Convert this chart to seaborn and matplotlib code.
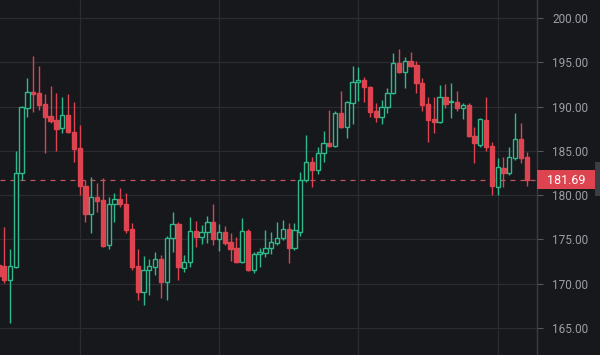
import matplotlib
matplotlib.use("Agg")
import matplotlib.pyplot as plt
import seaborn as sns
import pandas as pd
from matplotlib.patches import Rectangle

# OHLC, one entry per candle (first one is cut by the left edge)
opens = [172.1, 172.01, 170.43, 171.90, 182.51, 189.84, 191.65, 191.54, 190.29, 188.94,
         188.49, 187.58, 189.05, 187.13, 185.33, 181.04, 177.88, 179.80, 179.46, 174.38,
         179.01, 179.57, 179.01, 176.19, 172.01, 169.07, 171.56, 171.90, 172.80, 170.20,
         175.17, 176.75, 171.78, 172.46, 175.96, 175.28, 175.85, 176.98, 175.06, 175.85,
         174.72, 174.04, 172.46, 175.96, 171.56, 173.36, 173.48, 174.04, 174.60, 175.17,
         176.19, 174.04, 175.85, 181.72, 183.75, 182.84, 184.76, 185.89, 185.55, 189.28,
         187.70, 190.41, 192.78, 193.00, 192.21, 189.50, 188.83, 189.95, 191.54, 194.92,
         193.91, 195.15, 194.70, 192.66, 190.29, 188.60, 188.26, 191.08, 190.52, 190.52,
         189.84, 190.18, 186.68, 185.67, 188.49, 185.55, 180.93, 183.07, 182.51, 184.20,
         186.34, 184.31]
highs = [172.46, 176.41, 173.93, 184.99, 190.05, 193.23, 195.71, 194.58, 191.42, 192.33,
         191.54, 191.08, 191.42, 190.52, 187.92, 181.72, 182.05, 181.38, 181.94, 179.80,
         180.25, 180.81, 180.25, 176.86, 173.93, 173.14, 172.80, 173.59, 173.25, 175.40,
         178.10, 176.98, 173.25, 177.54, 177.09, 176.64, 177.65, 179.01, 176.75, 176.52,
         175.73, 175.28, 177.43, 176.19, 173.59, 174.04, 176.07, 175.85, 176.98, 177.20,
         176.86, 176.86, 182.62, 186.79, 184.31, 185.44, 187.25, 189.62, 189.50, 191.76,
         190.63, 194.58, 194.47, 193.34, 192.33, 190.41, 190.74, 192.10, 196.05, 196.50,
         195.60, 196.16, 195.15, 193.23, 191.08, 191.08, 192.44, 192.55, 192.66, 191.76,
         190.41, 190.41, 187.70, 188.71, 191.08, 186.00, 184.20, 184.31, 185.44, 189.28,
         188.15, 184.88]
lows = [170.20, 170.09, 165.58, 171.80, 181.72, 188.83, 189.39, 189.62, 184.76, 188.15,
        184.99, 187.02, 187.00, 183.75, 180.02, 176.98, 175.73, 178.10, 174.15, 173.93,
        176.98, 178.67, 175.73, 171.56, 168.17, 167.61, 168.74, 170.99, 168.40, 168.17,
        173.59, 170.43, 171.33, 171.90, 174.15, 174.49, 174.60, 174.38, 173.70, 174.38,
        172.57, 172.35, 172.35, 171.45, 171.22, 171.90, 173.02, 173.36, 174.38, 174.94,
        172.35, 173.81, 175.40, 181.49, 180.93, 182.39, 183.75, 185.45, 185.45, 187.58,
        186.46, 188.04, 190.63, 190.52, 188.83, 188.26, 188.04, 189.28, 191.42, 193.79,
        192.10, 194.47, 191.54, 189.50, 186.00, 187.02, 188.20, 189.84, 188.71, 189.50,
        188.60, 186.57, 183.63, 185.44, 184.99, 180.02, 180.02, 180.93, 182.28, 183.97,
        183.63, 181.04]
closes = [170.88, 170.43, 172.01, 182.51, 189.95, 191.65, 191.42, 190.18, 188.83, 188.37,
          187.47, 189.05, 187.13, 185.21, 181.04, 177.88, 179.80, 179.35, 174.27, 179.01,
          179.57, 179.01, 176.07, 171.90, 169.07, 171.56, 172.01, 172.80, 170.20, 175.17,
          176.75, 171.90, 172.46, 175.96, 175.28, 175.85, 176.98, 175.06, 175.85, 174.60,
          173.93, 172.46, 175.96, 171.56, 173.36, 173.59, 174.04, 174.72, 175.17, 176.19,
          174.04, 176.07, 181.72, 183.75, 182.84, 184.76, 185.89, 185.55, 189.28, 187.70,
          190.52, 192.78, 193.00, 192.21, 189.39, 188.83, 189.95, 191.54, 194.92, 193.91,
          195.15, 194.58, 192.66, 190.18, 188.49, 188.26, 191.08, 190.29, 190.60, 189.84,
          190.18, 186.68, 185.89, 188.60, 185.44, 181.04, 183.18, 182.51, 184.31, 186.34,
          184.20, 181.69]
y_ticks = [165, 170, 175, 180, 185, 190, 195, 200]
date_grid = [13, 37, 61, 85]
last_price = 181.69

df = pd.DataFrame({"open": opens, "high": highs, "low": lows, "close": closes})
df["pos"] = range(-1, len(df) - 1)
df["up"] = df["close"] >= df["open"]

BG = "#17181c"
GRID = "#2a2c31"
GREEN = "#2fb98a"
RED = "#dd4450"
TXT = "#9c9fa6"

sns.set_theme(style="dark", rc={"axes.facecolor": BG, "figure.facecolor": BG})
plt.rcParams["font.family"] = ["Roboto", "DejaVu Sans"]

fig = plt.figure(figsize=(6.0, 3.55), dpi=100)
ax = fig.add_axes([0, 0, 537 / 600, 1])
ax.set_facecolor(BG)

for up, part in df.groupby("up"):
    col = GREEN if up else RED
    ax.vlines(part["pos"], part["low"], part["high"], color=col, lw=1, zorder=3)
    bottom = part[["open", "close"]].min(axis=1)
    height = (part["close"] - part["open"]).abs().clip(lower=0.12)
    ax.bar(part["pos"], height, bottom=bottom, width=0.74,
           facecolor=BG if up else col, edgecolor=col, linewidth=1, zorder=4)

ax.axhline(last_price, color="#c25560", lw=0.9, ls=(0, (4, 4)), zorder=2)

ax.set_xlim(-0.72, 91.77)
ax.set_ylim(161.96, 202.03)
ax.set_xticks(date_grid)
ax.set_xticklabels([])
ax.set_yticks(y_ticks)
ax.set_yticklabels([f"{t:.2f}" for t in y_ticks])
ax.yaxis.tick_right()
ax.tick_params(axis="y", colors="#55585e", labelcolor=TXT, labelsize=8.5,
               length=4, width=0.8, pad=7, right=True, left=False)
ax.tick_params(axis="x", length=0)
ax.grid(True, color=GRID, lw=0.9)
for side in ["top", "left", "bottom"]:
    ax.spines[side].set_visible(False)
ax.spines["right"].set_color("#3a3c42")
ax.spines["right"].set_linewidth(1)

# price tag on the axis
fig.patches.append(Rectangle((537 / 600, 1 - 189.5 / 355), 58 / 600, 19 / 355,
                             transform=fig.transFigure, facecolor=RED, edgecolor="none"))
fig.patches.append(Rectangle((595 / 600, 1 - 196 / 355), 5 / 600, 34 / 355,
                             transform=fig.transFigure, facecolor="#3b3e45", edgecolor="none"))
fig.text(566 / 600, 1 - 180 / 355, f"{last_price:.2f}", color="white",
         fontsize=9, ha="center", va="center")

fig.savefig("out.png", dpi=100, facecolor=BG)
